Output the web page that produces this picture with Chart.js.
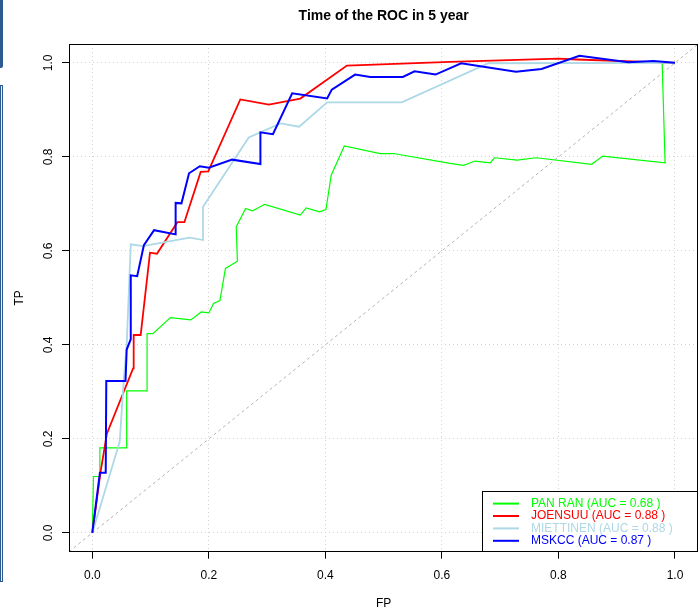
<!DOCTYPE html>
<html>
<head>
<meta charset="utf-8">
<script src="https://cdn.jsdelivr.net/npm/chart.js@4.4.1/dist/chart.umd.min.js"></script>
<style>
  body { margin: 0; background: #fff; }
  #wrap { position: relative; width: 700px; height: 610px; }
  #roc { position: absolute; left: 0; top: 0; }
  /* the two blue bars on the left edge of the screenshot */
  .barTop { position: absolute; left: 0; top: 0; width: 3px; height: 68px; background: #2c5a91; border-bottom-right-radius: 2px; }
  .barSide { position: absolute; left: 0; top: 85px; width: 1px; height: 495px; border: 1px solid #2c5a91; background: #e9eef5; }
</style>
</head>
<body>
<div id="wrap">
  <canvas id="roc" width="700" height="610"></canvas>
  <div class="barTop"></div>
  <div class="barSide"></div>
</div>
<script>
// axis limits and ticks
const axisMin = -0.04;
const axisMax = 1.04;
const tickValues = [0, 0.2, 0.4, 0.6, 0.8, 1.0];

// legend names / AUC
const seriesNames = ['PAN RAN', 'JOENSUU', 'MIETTINEN', 'MSKCC'];
const seriesAUC = ['0.68', '0.88', '0.88', '0.87'];
const seriesColors = ['#00ff00', '#ff0000', '#add8e6', '#0000ff'];

// PAN RAN
const panFP = [0, 0.002, 0.013, 0.013, 0.059, 0.059, 0.094, 0.094, 0.104, 0.134, 0.169, 0.187, 0.200, 0.208, 0.219, 0.2285, 0.249, 0.247, 0.263, 0.275, 0.296, 0.357, 0.367, 0.390, 0.401, 0.410, 0.4325, 0.494, 0.517, 0.614, 0.637, 0.657, 0.683, 0.690, 0.729, 0.762, 0.857, 0.876, 0.983, 0.978, 1.0];
const panTP = [0, 0.120, 0.120, 0.181, 0.181, 0.302, 0.302, 0.424, 0.424, 0.458, 0.453, 0.470, 0.468, 0.488, 0.494, 0.5625, 0.578, 0.651, 0.690, 0.685, 0.699, 0.676, 0.6915, 0.683, 0.688, 0.761, 0.823, 0.807, 0.807, 0.786, 0.782, 0.791, 0.787, 0.798, 0.793, 0.798, 0.784, 0.8015, 0.787, 0.999, 1.0];

// JOENSUU
const joeFP = [0, 0.014, 0.025, 0.070, 0.071, 0.083, 0.099, 0.111, 0.146, 0.158, 0.186, 0.199, 0.254, 0.303, 0.357, 0.437, 0.614, 0.800, 0.831, 1.0];
const joeTP = [0, 0.128, 0.211, 0.350, 0.421, 0.421, 0.596, 0.594, 0.661, 0.661, 0.768, 0.769, 0.922, 0.911, 0.924, 0.994, 1.002, 1.009, 1.007, 1.0];

// MIETTINEN
const mieFP = [0, 0.047, 0.054, 0.059, 0.066, 0.087, 0.167, 0.190, 0.190, 0.2685, 0.323, 0.355, 0.403, 0.531, 0.680, 1.0];
const mieTP = [0, 0.194, 0.325, 0.400, 0.614, 0.610, 0.628, 0.623, 0.694, 0.841, 0.871, 0.864, 0.916, 0.916, 0.999, 1.0];

// MSKCC
const mskFP = [0, 0.013, 0.023, 0.024, 0.057, 0.059, 0.066, 0.066, 0.077, 0.0885, 0.106, 0.143, 0.143, 0.153, 0.166, 0.1845, 0.200, 0.240, 0.2885, 0.2885, 0.310, 0.343, 0.403, 0.411, 0.451, 0.477, 0.533, 0.553, 0.589, 0.633, 0.727, 0.771, 0.836, 0.920, 0.963, 1.0];
const mskTP = [0, 0.128, 0.128, 0.323, 0.323, 0.390, 0.412, 0.548, 0.546, 0.612, 0.644, 0.635, 0.702, 0.701, 0.765, 0.780, 0.777, 0.794, 0.7845, 0.852, 0.848, 0.935, 0.924, 0.943, 0.975, 0.970, 0.970, 0.982, 0.975, 0.999, 0.981, 0.987, 1.015, 1.001, 1.004, 1.0];

const seriesFP = [panFP, joeFP, mieFP, mskFP];
const seriesTP = [panTP, joeTP, mieTP, mskTP];
const lineWidths = [1.2, 1.8, 1.8, 2];

function toPoints(xs, ys) {
    return xs.map(function (x, i) { return { x: x, y: ys[i] }; });
}

const FONT = "'Liberation Sans', Arial, Helvetica, sans-serif";

const datasets = seriesNames.map(function (name, i) {
    return {
        label: name,
        data: toPoints(seriesFP[i], seriesTP[i]),
        borderColor: seriesColors[i],
        borderWidth: lineWidths[i],
        pointRadius: 0,
        tension: 0,
        fill: false,
        order: seriesNames.length - i   // R draws later series on top
    };
});

// chance diagonal across the whole plot region
datasets.push({
    label: 'diag',
    data: toPoints([axisMin, axisMax], [axisMin, axisMax]),
    borderColor: '#b4b4b4',
    borderWidth: 1,
    borderDash: [3, 3],
    pointRadius: 0,
    order: 10
});

// box round the plot + legend in the bottom right corner
const boxAndLegend = {
    id: 'boxAndLegend',
    afterDatasetsDraw: function (chart) {
        const c = chart.ctx;
        const a = chart.chartArea;
        c.save();
        c.strokeStyle = '#000';
        c.lineWidth = 1;
        c.strokeRect(Math.round(a.left) + 0.5, Math.round(a.top) + 0.5,
                     Math.round(a.right - a.left) - 1, Math.round(a.bottom - a.top) - 1);

        // legend
        const w = 216, h = 61;
        const lx = Math.round(a.right) - w, ly = Math.round(a.bottom) - h;
        c.fillStyle = '#fff';
        c.fillRect(lx, ly, w, h);
        c.strokeRect(lx + 0.5, ly + 0.5, w - 1, h - 1);
        c.font = '12px ' + FONT;
        c.textBaseline = 'middle';
        c.textAlign = 'left';
        for (let i = 0; i < seriesNames.length; i++) {
            const y = ly + 12.6 + i * 12.4;
            c.beginPath();
            c.strokeStyle = seriesColors[i];
            c.lineWidth = 2;
            c.moveTo(lx + 11, y);
            c.lineTo(lx + 37, y);
            c.stroke();
            c.fillStyle = seriesColors[i];
            c.fillText(seriesNames[i] + ' (AUC = ' + seriesAUC[i] + ' )', lx + 49, y);
        }
        c.restore();
    }
};

new Chart(document.getElementById('roc'), {
    type: 'line',
    data: { datasets: datasets },
    plugins: [boxAndLegend],
    options: {
        responsive: false,
        animation: false,
        devicePixelRatio: 1,
        layout: { padding: { top: 0, left: 0, right: 1.7, bottom: 0 } },
        plugins: {
            legend: { display: false },
            tooltip: { enabled: false },
            title: {
                display: true,
                fullSize: false,
                text: 'Time of the ROC in 5 year',
                color: '#000',
                font: { family: FONT, size: 14, weight: 'bold' },
                padding: { top: 7.4, bottom: 19.8 }
            }
        },
        scales: {
            x: {
                type: 'linear',
                min: axisMin,
                max: axisMax,
                afterBuildTicks: function (s) { s.ticks = tickValues.map(function (v) { return { value: v }; }); },
                afterFit: function (s) { s.height = 58.3; },
                ticks: {
                    color: '#000',
                    font: { family: FONT, size: 12 },
                    padding: 10,
                    maxRotation: 0,
                    callback: function (v) { return v.toFixed(1); }
                },
                grid: { color: '#d3d3d3', lineWidth: 1, tickLength: 7, tickColor: '#000', tickBorderDash: [] },
                border: { display: false, dash: [1, 3] },
                title: { display: true, text: 'FP', color: '#000', font: { family: FONT, size: 12 }, padding: { top: 4, bottom: -1 } }
            },
            y: {
                type: 'linear',
                min: axisMin,
                max: axisMax,
                afterBuildTicks: function (s) { s.ticks = tickValues.map(function (v) { return { value: v }; }); },
                afterFit: function (s) { s.width = 69; },
                ticks: {
                    color: '#000',
                    font: { family: FONT, size: 12 },
                    padding: 5,
                    minRotation: 90,
                    maxRotation: 90,
                    crossAlign: 'center',
                    callback: function (v) { return v.toFixed(1); }
                },
                grid: { color: '#d3d3d3', lineWidth: 1, tickLength: 7, tickColor: '#000', tickBorderDash: [] },
                border: { display: false, dash: [1, 3] },
                title: { display: true, text: 'TP', color: '#000', font: { family: FONT, size: 12 }, padding: { top: 12, bottom: 0 } }
            }
        }
    }
});
</script>
</body>
</html>
